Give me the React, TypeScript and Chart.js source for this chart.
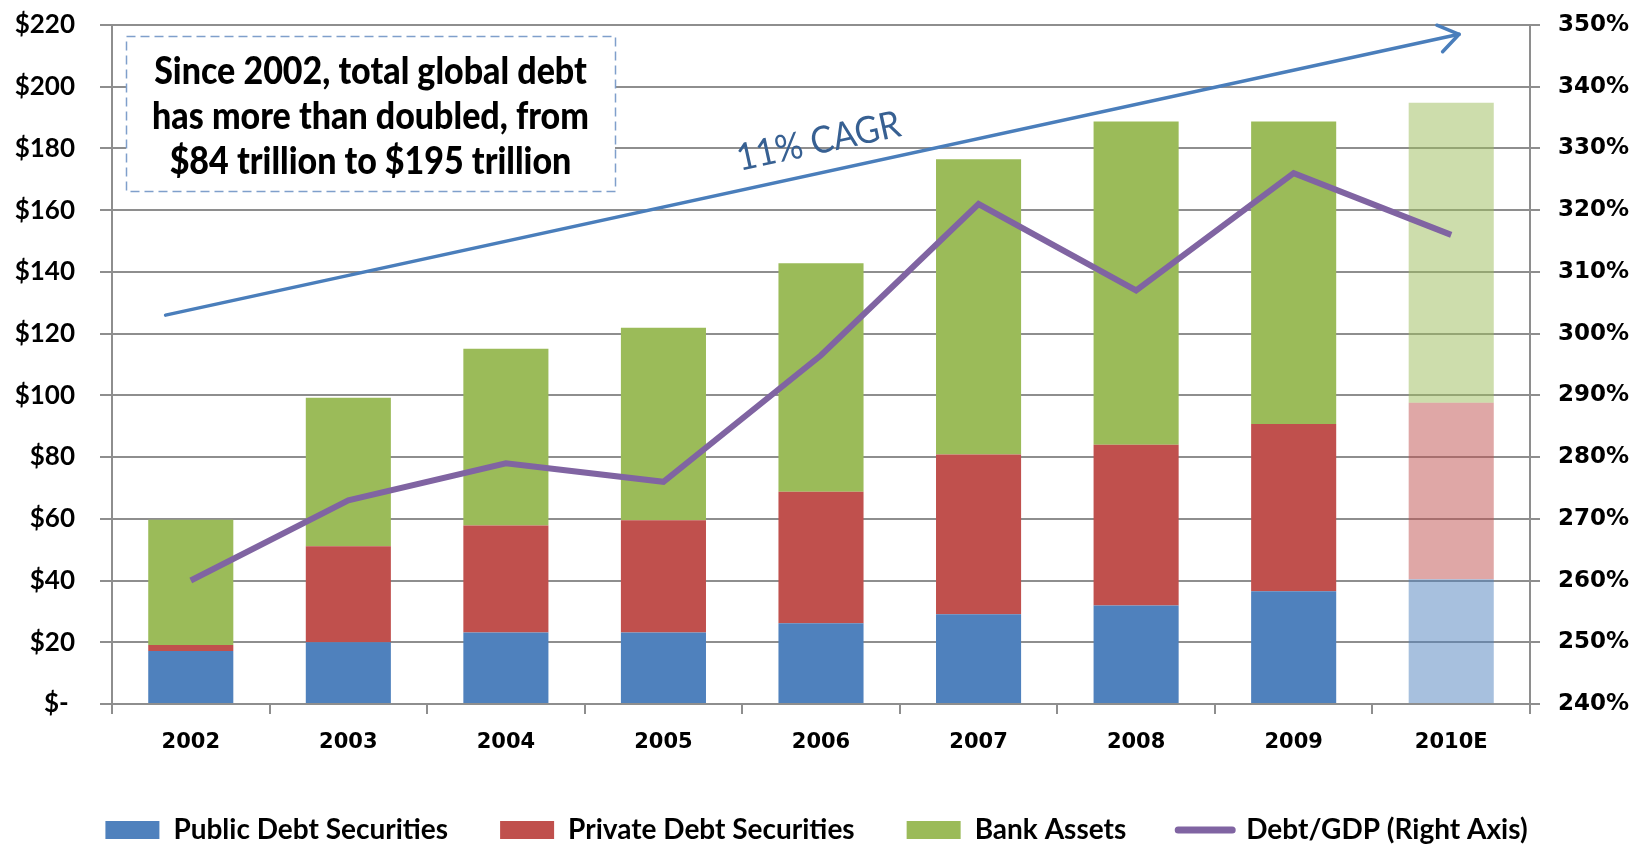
import React, { useEffect, useRef } from "react";
import { Chart, registerables } from "chart.js";

Chart.register(...registerables);

// ---------------- data ----------------
const categories = ["2002", "2003", "2004", "2005", "2006", "2007", "2008", "2009", "2010E"];
const publicDebt = [17.2, 20, 23.2, 23.2, 26.2, 29.1, 31.9, 36.5, 40.4];
const privateDebt = [1.9, 31.1, 34.6, 36.3, 42.6, 51.7, 52.1, 54.2, 57.2];
const bankAssets = [40.6, 48.1, 57.3, 62.4, 74.0, 95.7, 104.7, 98.0, 97.2];
const debtToGdp = [260, 273, 279, 276, 296.5, 321, 307, 326, 316];
const seriesLabels = ["Public Debt Securities", "Private Debt Securities", "Bank Assets", "Debt/GDP (Right Axis)"];
const estimateFlags = [false, false, false, false, false, false, false, false, true];
const leftAxisRange = [0, 220, 20];
const rightAxisRange = [240, 350, 10];
// CAGR arrow in (category index, $ trillion) data units
const cagrArrowX = [-0.16, 8.05];
const cagrArrowY = [126, 217];
const cagrLabel = "11% CAGR";
const calloutLines = [
  "Since 2002, total global debt",
  "has more than doubled, from",
  "$84 trillion to $195 trillion",
];

// ---------------- styles ----------------
const BLUE = "#4F81BD";
const RED = "#C0504D";
const GREEN = "#9BBB59";
const PURPLE = "#8064A2";
const BLUE_L = "rgba(79,129,189,0.5)";
const RED_L = "rgba(192,80,77,0.5)";
const GREEN_L = "rgba(155,187,89,0.5)";
const GRID = "#8E8E8E";

const colorsFor = (solid: string, light: string) => estimateFlags.map((e) => (e ? light : solid));

const annotationPlugin = {
  id: "annotations",
  afterLayout(chart: any) {
    const l = chart.legend;
    if (l) {
      l.top += 10;
      l.bottom += 10;
    }
  },
  afterDatasetsDraw(chart: any) {
    const { ctx, chartArea, scales } = chart;
    const x = scales.x;
    const y = scales.y;
    ctx.save();

    // callout box
    const bx = chartArea.left + 14;
    const by = chartArea.top + 11;
    const bw = 489;
    const bh = 155;
    ctx.fillStyle = "#ffffff";
    ctx.fillRect(bx, by, bw, bh);
    ctx.setLineDash([9, 5]);
    ctx.strokeStyle = "#7F9FCB";
    ctx.lineWidth = 1.5;
    ctx.strokeRect(bx + 0.5, by + 0.5, bw, bh);
    ctx.setLineDash([]);
    ctx.fillStyle = "#000";
    ctx.textAlign = "center";
    ctx.textBaseline = "middle";
    ctx.font = "900 34px Lato";
    calloutLines.forEach((line, i) => {
      ctx.save();
      ctx.translate(bx + bw / 2, by + 36 + i * 45);
      ctx.scale(1, 1.12);
      ctx.fillText(line, 0, 0);
      ctx.restore();
    });

    // CAGR arrow
    const x0 = x.getPixelForValue(cagrArrowX[0]);
    const x1 = x.getPixelForValue(cagrArrowX[1]);
    const y0 = y.getPixelForValue(cagrArrowY[0]);
    const y1 = y.getPixelForValue(cagrArrowY[1]);
    const ang = Math.atan2(y1 - y0, x1 - x0);
    ctx.strokeStyle = "#4A7EBB";
    ctx.lineWidth = 3.5;
    ctx.lineCap = "round";
    ctx.lineJoin = "round";
    ctx.beginPath();
    ctx.moveTo(x0, y0);
    ctx.lineTo(x1, y1);
    ctx.stroke();
    const hl = 24;
    const ha = 0.6;
    ctx.beginPath();
    ctx.moveTo(x1 - hl * Math.cos(ang - ha), y1 - hl * Math.sin(ang - ha));
    ctx.lineTo(x1, y1);
    ctx.lineTo(x1 - hl * Math.cos(ang + ha), y1 - hl * Math.sin(ang + ha));
    ctx.stroke();

    // CAGR label
    const t = 0.51;
    const mx = x0 + (x1 - x0) * t;
    const my = y0 + (y1 - y0) * t;
    const off = 31;
    const lx = mx + off * Math.sin(ang);
    const ly = my - off * Math.cos(ang);
    ctx.translate(lx, ly);
    ctx.rotate(ang);
    ctx.scale(1, 1.1);
    ctx.fillStyle = "#376092";
    ctx.font = "34px Lato";
    ctx.textAlign = "center";
    ctx.textBaseline = "middle";
    ctx.fillText(cagrLabel, 0, 0);
    ctx.restore();
  },
};

export default function App() {
  const ref = useRef<HTMLCanvasElement | null>(null);

  useEffect(() => {
    if (!ref.current) return;
    Chart.defaults.font.family = "Lato";
    const legendColors = [BLUE, RED, GREEN, PURPLE];
    const chart = new Chart(ref.current, {
      type: "bar",
      data: {
        labels: categories,
        datasets: [
          {
            label: seriesLabels[0],
            data: publicDebt,
            backgroundColor: colorsFor(BLUE, BLUE_L),
            stack: "s",
            order: 1,
            yAxisID: "y",
          },
          {
            label: seriesLabels[1],
            data: privateDebt,
            backgroundColor: colorsFor(RED, RED_L),
            stack: "s",
            order: 1,
            yAxisID: "y",
          },
          {
            label: seriesLabels[2],
            data: bankAssets,
            backgroundColor: colorsFor(GREEN, GREEN_L),
            stack: "s",
            order: 1,
            yAxisID: "y",
          },
          {
            type: "line",
            label: seriesLabels[3],
            data: debtToGdp,
            borderColor: PURPLE,
            backgroundColor: PURPLE,
            borderWidth: 6,
            pointRadius: 0,
            tension: 0,
            order: 0,
            yAxisID: "y1",
          } as any,
        ],
      },
      options: {
        animation: false,
        responsive: false,
        devicePixelRatio: 1,
        datasets: { bar: { barPercentage: 0.54, categoryPercentage: 1 } },
        layout: { padding: { top: 25, left: 0, right: 0, bottom: 0 } },
        plugins: {
          tooltip: { enabled: false },
          legend: {
            position: "bottom",
            labels: {
              usePointStyle: true,
              pointStyleWidth: 54,
              boxHeight: 18,
              padding: 52,
              color: "#000",
              font: { family: "Lato", size: 28, weight: "bold" },
              generateLabels: (c: any) =>
                c.data.datasets.map((ds: any, i: number) => ({
                  text: ds.label,
                  fillStyle: legendColors[i],
                  strokeStyle: legendColors[i],
                  lineWidth: ds.type === "line" ? 7 : 0,
                  pointStyle: ds.type === "line" ? "line" : "rect",
                  lineCap: "round",
                  hidden: false,
                  datasetIndex: i,
                })),
            },
          },
        },
        scales: {
          x: {
            stacked: true,
            offset: true,
            grid: {
              offset: true,
              drawOnChartArea: false,
              drawTicks: true,
              tickLength: 10,
              color: GRID,
              lineWidth: 2,
            },
            border: { display: true, color: GRID, width: 2 },
            ticks: {
              color: "#000",
              padding: 16,
              font: { family: "DejaVu Sans", size: 21, weight: "bold" },
            },
            afterFit: (s: any) => {
              s.height = 50;
            },
          },
          y: {
            stacked: true,
            position: "left",
            min: leftAxisRange[0],
            max: leftAxisRange[1],
            ticks: {
              stepSize: leftAxisRange[2],
              color: "#000",
              padding: 25,
              font: { family: "Lato", size: 26, weight: "bold" },
              callback: (v: any) => (v === 0 ? "$- " : "$" + v),
            },
            grid: { color: GRID, lineWidth: 2, tickLength: 12 },
            border: { display: true, color: GRID, width: 2 },
            afterFit: (s: any) => {
              s.width = 112;
              s.paddingTop = 10;
              s.paddingBottom = 10;
            },
          },
          y1: {
            position: "right",
            min: rightAxisRange[0],
            max: rightAxisRange[1],
            ticks: {
              stepSize: rightAxisRange[2],
              color: "#000",
              padding: 18,
              font: { family: "DejaVu Sans", size: 23, weight: "bold" },
              callback: (v: any) => v + "%",
            },
            grid: { drawOnChartArea: false, color: GRID, lineWidth: 2, tickLength: 10 },
            border: { display: true, color: GRID, width: 2 },
            afterFit: (s: any) => {
              s.width = 103;
              s.paddingTop = 10;
              s.paddingBottom = 10;
            },
          },
        },
      },
      plugins: [annotationPlugin],
    });
    return () => chart.destroy();
  }, []);

  return (
    <div style={{ position: "absolute", left: 0, top: 0, width: 1633, height: 844, background: "#fff" }}>
      <canvas ref={ref} width={1633} height={844} style={{ display: "block" }} />
    </div>
  );
}
